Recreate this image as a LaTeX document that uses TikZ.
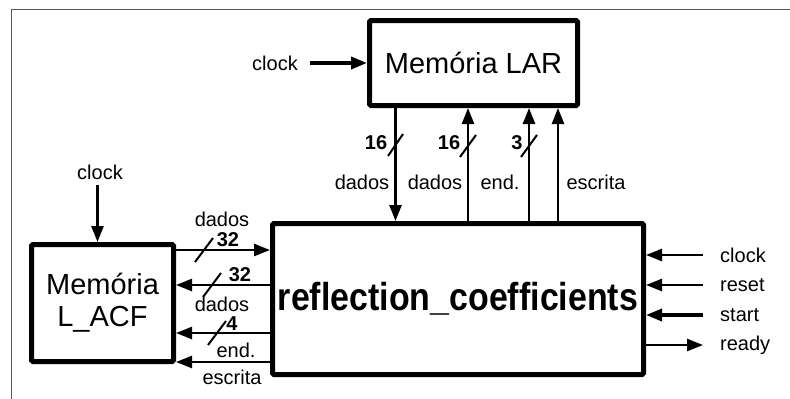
\documentclass[tikz,border=0pt]{standalone}
\usepackage{fontspec}
\setmainfont{Liberation Sans}
\usetikzlibrary{arrows.meta}
\begin{document}
\begin{tikzpicture}[x=1pt,y=-1pt,
  box/.style={draw, line width=5pt, rounded corners=1.5pt, inner sep=0pt},
  wire/.style={line width=2.5pt, -{Triangle[length=16pt,width=12pt]}},
  heavy/.style={line width=3.5pt},
  lbl/.style={font=\fontsize{20}{22}\selectfont, inner sep=0pt},
  num/.style={font=\fontsize{20}{22}\selectfont\bfseries, inner sep=0pt},
  slash/.style={line width=2pt},
]
\useasboundingbox (0,0) rectangle (790,399);
% page frame
\draw[black!65, line width=1.5pt] (11.5,399) -- (11.5,9.5) -- (790,9.5);

% blocks
\node[box, minimum width=208pt, minimum height=85pt,
      font=\fontsize{29}{32}\selectfont] (lar) at (473.5,63) {Memória LAR};
\node[box, minimum width=371pt, minimum height=151pt,
      font=\fontsize{39}{40}\selectfont\bfseries] (refl) at (458,299)
      {\scalebox{0.87}[1]{reflection\_coefficients}};
\node[box, minimum width=142pt, minimum height=117pt, align=center,
      font=\fontsize{29}{32}\selectfont] (acf) at (102.5,303) {Memória\\L\_ACF};

% clock into Memória LAR
\node[lbl] (clkLAR) at (275,63) {clock};
\coordinate (clkLARs) at (310,63);
\draw[wire, heavy] (clkLARs) -- (lar.west);

% clock into Memória L_ACF
\node[lbl] (clkACF) at (100,172) {clock};
\coordinate (clkACFs) at (97.5,185);
\draw[wire] (clkACFs) -- (acf.north -| clkACFs);

% buses between Memória LAR and reflection_coefficients
\coordinate (xd1) at (395.5,0);
\coordinate (xd2) at (468,0);
\coordinate (xen) at (529,0);
\coordinate (xwr) at (558,0);
\draw[wire] (lar.south -| xd1) -- (refl.north -| xd1);
\draw[wire] (refl.north -| xd2) -- (lar.south -| xd2);
\draw[wire] (refl.north -| xen) -- (lar.south -| xen);
\draw[wire] (refl.north -| xwr) -- (lar.south -| xwr);
\draw[slash] (388,156) -- (403,134);
\draw[slash] (460,157) -- (476,135);
\draw[slash] (521,157) -- (537,135);
\node[num] (w1) at (376,143) {16};
\node[num] (w2) at (449,143) {16};
\node[num] (w3) at (517,143) {3};
\node[lbl] (l1) at (362,182) {dados};
\node[lbl] (l2) at (435,182) {dados};
\node[lbl] (l3) at (500,182) {end.};
\node[lbl] (l4) at (596,182) {escrita};

% buses between Memória L_ACF and reflection_coefficients
\coordinate (ya) at (0,250);
\coordinate (yb) at (0,285);
\coordinate (yc) at (0,333);
\coordinate (yd) at (0,362);
\draw[wire] (acf.east |- ya) -- (refl.west |- ya);
\draw[wire] (refl.west |- yb) -- (acf.east |- yb);
\draw[wire] (refl.west |- yc) -- (acf.east |- yc);
\draw[wire] (refl.west |- yd) -- (acf.east |- yd);
\draw[slash] (195,262) -- (213,238);
\draw[slash] (203,297) -- (221,273);
\draw[slash] (208,345) -- (226,321);
\node[lbl] (m1) at (222,219) {dados};
\node[num] (n1) at (228,240) {32};
\node[num] (n2) at (240,275) {32};
\node[lbl] (m2) at (222,304) {dados};
\node[num] (n3) at (232,324) {4};
\node[lbl] (m3) at (236,350) {end.};
\node[lbl] (m4) at (232,377) {escrita};

% control signals on the right
\coordinate (rclk) at (703,255);
\coordinate (rrst) at (703,285);
\coordinate (rstr) at (703,315);
\coordinate (rrdy) at (703,345);
\draw[wire] (rclk) -- (refl.east |- rclk);
\draw[wire] (rrst) -- (refl.east |- rrst);
\draw[wire, heavy] (rstr) -- (refl.east |- rstr);
\draw[wire] (refl.east |- rrdy) -- (rrdy);
\node[lbl, anchor=west] (tclk) at (720,255) {clock};
\node[lbl, anchor=west] (trst) at (720,285) {reset};
\node[lbl, anchor=west] (tstr) at (720,315) {start};
\node[lbl, anchor=west] (trdy) at (720,345) {ready};
\end{tikzpicture}
\end{document}
